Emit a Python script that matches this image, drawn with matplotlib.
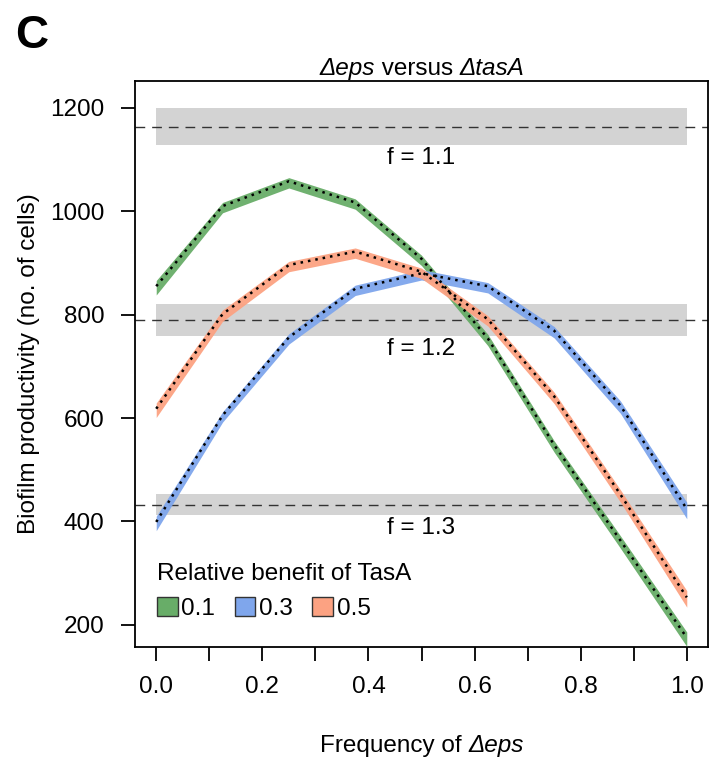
import matplotlib
matplotlib.use("Agg")
import matplotlib.pyplot as plt
from matplotlib.patches import Patch

plt.rcParams['font.family'] = ['Liberation Sans', 'DejaVu Sans']

# Data
freq = [0.0, 0.125, 0.25, 0.375, 0.5, 0.625, 0.75, 0.875, 1.0]
benefit_labels = ["0.1", "0.3", "0.5"]
green_mid = [852, 1007, 1055, 1014, 905, 751, 545, 360, 172]
blue_mid = [396, 602, 753, 847, 877, 852, 766, 621, 421]
orange_mid = [615, 798, 893, 919, 880, 788, 639, 449, 250]
green_hw = [14, 10, 10, 10, 10, 11, 11, 12, 14]
blue_hw = [14, 10, 10, 10, 10, 10, 11, 12, 16]
orange_hw = [14, 11, 10, 10, 10, 10, 11, 12, 16]
colors = ["#68AD68", "#7FA6EC", "#FCA282"]
f_labels = ["f = 1.1", "f = 1.2", "f = 1.3"]
f_level = [1163, 790, 431]
f_low = [1128, 759, 412]
f_high = [1200, 820, 453]

FS = 17.5
W, H = 712, 759
fig = plt.figure(figsize=(W / 100, H / 100), dpi=100)
ax = fig.add_axes([135/W, 1-647/H, (708-135)/W, (647-81)/H])

for lo, hi, lev, lab in zip(f_low, f_high, f_level, f_labels):
    ax.fill_between([0, 1], [lo, lo], [hi, hi], color="#D3D3D3", lw=0, zorder=1)
    ax.axhline(lev, color="#333333", lw=1.0, ls=(0, (7, 5)), zorder=2)
    ax.text(0.5, lo - 4, lab, ha="center", va="top", fontsize=FS, zorder=2)

for mid, hw, c in zip([green_mid, blue_mid, orange_mid], [green_hw, blue_hw, orange_hw], colors):
    lo = [m - h for m, h in zip(mid, hw)]
    hi = [m + h for m, h in zip(mid, hw)]
    ax.fill_between(freq, lo, hi, color=c, alpha=0.95, lw=0, zorder=3)
for mid in [green_mid, blue_mid, orange_mid]:
    ax.plot(freq, [m + 3 for m in mid], color="black", lw=1.8, ls=(0, (1, 2.0)), zorder=4)

ax.set_xlim(-0.04, 1.04)
ax.set_ylim(157, 1252)
ax.set_xticks([i / 10 for i in range(11)])
ax.set_xticklabels(["0.0", "", "0.2", "", "0.4", "", "0.6", "", "0.8", "", "1.0"])
ax.set_yticks([200, 400, 600, 800, 1000, 1200])
for s in ax.spines.values():
    s.set_linewidth(1.3)
ax.tick_params(direction="out", length=10, width=1.3, labelsize=FS)
ax.tick_params(axis="x", pad=11)
ax.tick_params(axis="y", pad=12)
ax.set_ylabel("Biofilm productivity (no. of cells)", fontsize=FS, labelpad=7)

handles = [Patch(facecolor=c, edgecolor="#333333", lw=1) for c in colors]
leg = ax.legend(handles, benefit_labels, title="Relative benefit of TasA", ncol=3,
                loc="lower left", bbox_to_anchor=(22/573, 27/566), frameon=False,
                fontsize=FS, title_fontsize=FS, handlelength=0.85, handleheight=0.8,
                handletextpad=0.15, columnspacing=0.8, borderaxespad=0, borderpad=0,
                labelspacing=0.3)
leg._legend_box.align = "left"
leg._legend_box.sep = 9

fig.text(32/W, 1-36/H, "C", fontsize=33, fontweight="bold", ha="center", va="center")

# multi-style centered texts
renderer = fig.canvas.get_renderer()
def mixed_text(xc_px, ybase_px, parts, size):
    objs = []
    widths = []
    for s, st in parts:
        t = fig.text(0, 0, s, fontsize=size, style=st, ha="left", va="baseline")
        bb = t.get_window_extent(renderer=renderer)
        objs.append(t)
        widths.append(bb.width)
    total = sum(widths)
    x = xc_px - total / 2
    for t, w in zip(objs, widths):
        t.set_position((x / W, 1 - ybase_px / H))
        x += w

mixed_text(422, 75, [("Δeps", "italic"), (" versus ", "normal"), ("ΔtasA", "italic")], FS)
mixed_text(422, 752, [("Frequency of ", "normal"), ("Δeps", "italic")], FS)

fig.savefig("out.png", dpi=100)
